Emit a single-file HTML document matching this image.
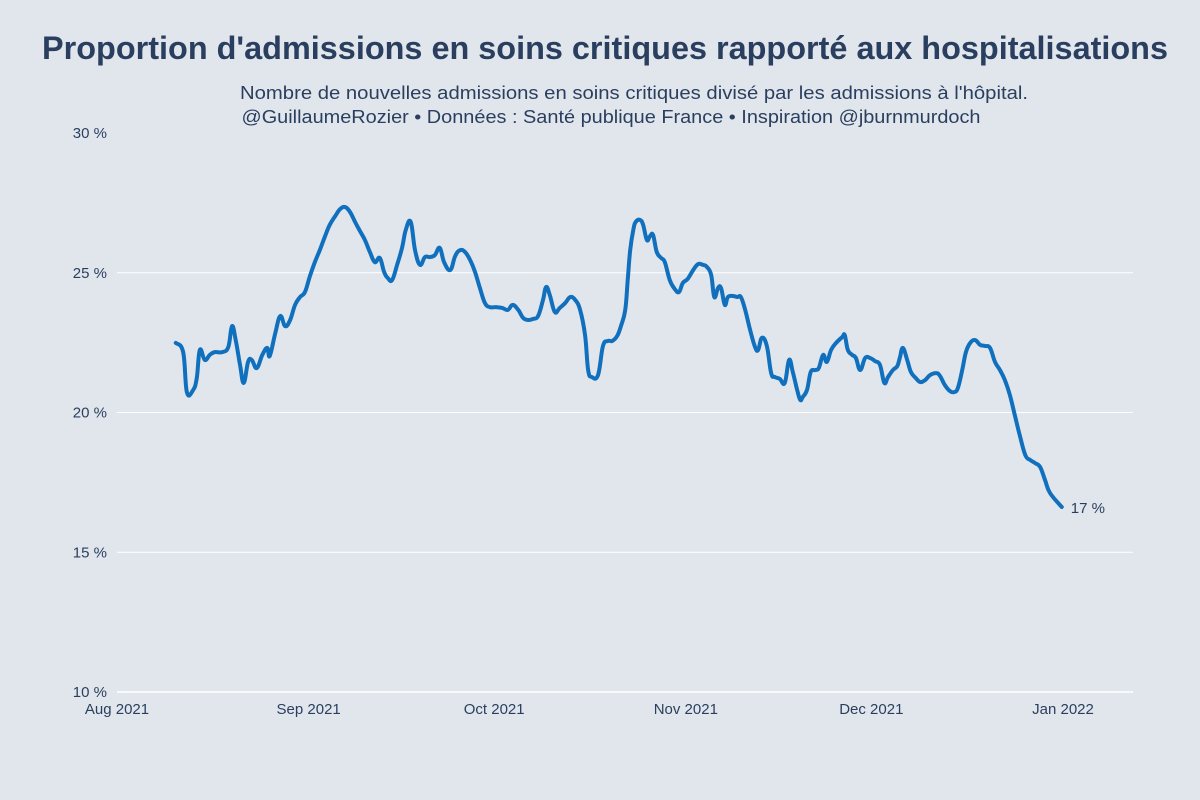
<!DOCTYPE html>
<html><head><meta charset="utf-8"><style>
html,body{margin:0;padding:0;background:#e1e6ec;}
svg{display:block;font-family:"Liberation Sans",sans-serif;}
</style></head><body>
<svg id="chart" width="1200" height="800">
<rect width="1200" height="800" fill="#e1e6ec"/>
<text x="605" y="59" text-anchor="middle" font-size="32" font-weight="bold" fill="#2a3f5f" textLength="1126" lengthAdjust="spacingAndGlyphs">Proportion d'admissions en soins critiques rapporté aux hospitalisations</text>
<text x="634" y="99" text-anchor="middle" font-size="18" fill="#2a3f5f" textLength="788" lengthAdjust="spacingAndGlyphs">Nombre de nouvelles admissions en soins critiques divisé par les admissions à l'hôpital.</text>
<text x="611" y="123" text-anchor="middle" font-size="18" fill="#2a3f5f" textLength="739" lengthAdjust="spacingAndGlyphs">@GuillaumeRozier • Données : Santé publique France • Inspiration @jburnmurdoch</text>
<g id="grid"></g><g id="yticks"></g><g id="xticks"></g><g id="series"></g>
</svg>
<script>
const yTicks=[10,15,20,25,30];
const yTickLabels=["10 %","15 %","20 %","25 %","30 %"];
const xTickDays=[0,31,61,92,122,153];
const xTickLabels=["Aug 2021","Sep 2021","Oct 2021","Nov 2021","Dec 2021","Jan 2022"];
const days=[9.5,10.7,11.3,12.3,12.9,13.4,14.2,15.0,15.8,17.0,18.0,18.6,19.2,19.9,20.5,21.2,21.8,22.6,23.5,24.3,24.7,25.6,26.4,27.2,28.0,28.8,29.6,30.4,31.2,32.0,32.8,33.6,34.4,35.3,36.1,36.9,37.7,38.5,39.3,40.1,40.9,41.7,42.5,43.2,43.8,44.5,45.3,46.1,46.7,47.5,48.2,49.0,49.8,50.6,51.4,52.2,52.9,53.9,54.7,55.5,56.3,57.1,57.9,58.7,59.5,60.3,61.3,62.3,63.2,64.0,64.9,65.7,66.5,67.3,68.1,68.9,69.4,70.0,70.8,71.6,72.5,73.3,74.1,74.9,75.7,76.2,76.8,77.8,78.6,79.4,80.1,80.9,81.5,82.2,82.6,83.0,83.5,83.9,84.6,85.1,85.7,86.2,86.7,87.3,88.0,88.6,89.4,90.2,90.9,91.5,92.3,93.2,94.0,94.8,95.4,96.1,96.6,97.2,97.7,98.3,98.8,99.6,100.3,100.9,101.6,102.4,103.2,103.7,104.3,105.1,105.8,106.4,107.2,108.0,108.7,109.3,110.0,110.5,110.9,111.6,112.2,112.9,113.5,114.2,114.8,115.5,116.3,117.3,117.7,118.2,118.9,119.5,120.2,121.0,121.8,122.6,123.4,124.1,124.7,125.5,126.2,126.6,127.1,127.8,128.4,129.2,129.9,130.7,131.5,132.5,133.1,133.9,134.7,135.4,136.0,136.7,137.3,138.0,138.8,139.6,140.4,141.2,142.0,142.8,143.6,144.4,145.2,146.0,146.9,147.7,148.5,149.3,150.1,150.9,152.8];
const values=[22.49,22.16,20.73,20.80,21.23,22.24,21.88,22.06,22.16,22.16,22.34,23.09,22.59,21.70,21.06,21.81,21.88,21.59,22.06,22.31,22.02,22.84,23.45,23.09,23.31,23.85,24.13,24.31,24.88,25.38,25.81,26.28,26.71,27.03,27.28,27.35,27.17,26.82,26.49,26.17,25.74,25.38,25.53,25.03,24.81,24.74,25.28,25.89,26.53,26.82,25.81,25.28,25.56,25.56,25.63,25.89,25.38,25.10,25.60,25.81,25.74,25.46,25.03,24.45,23.92,23.77,23.77,23.74,23.67,23.85,23.67,23.38,23.31,23.35,23.45,24.03,24.49,24.20,23.60,23.74,23.92,24.13,24.03,23.67,22.77,21.52,21.27,21.34,22.38,22.56,22.56,22.74,23.09,23.67,24.74,25.81,26.53,26.82,26.89,26.71,26.17,26.31,26.35,25.74,25.53,25.38,24.74,24.42,24.31,24.63,24.78,25.10,25.31,25.28,25.21,24.92,24.13,24.45,24.45,23.85,24.13,24.17,24.13,24.13,23.67,22.95,22.34,22.24,22.67,22.38,21.41,21.27,21.20,21.06,21.88,21.45,20.81,20.45,20.55,20.81,21.45,21.52,21.59,22.06,21.81,22.24,22.49,22.70,22.77,22.24,22.06,21.95,21.52,21.95,21.95,21.84,21.70,21.06,21.27,21.52,21.66,21.95,22.31,21.88,21.45,21.23,21.09,21.16,21.34,21.41,21.31,20.98,20.77,20.73,20.88,21.52,22.16,22.49,22.59,22.42,22.38,22.31,21.81,21.52,21.16,20.63,19.91,19.19,18.48,18.30,18.19,18.05,17.58,17.12,16.62];
const lastLabel="17 %";

const X0=117,X1=1133,Y0=692,Y1=133;
const xS=d=>X0+(d/153)*(1063-117);
const yS=v=>Y0-(v-10)/20*(Y0-Y1);
const NS="http://www.w3.org/2000/svg";
function mk(tag,attrs,parent,txt){const e=document.createElementNS(NS,tag);for(const k in attrs)e.setAttribute(k,attrs[k]);if(txt!==undefined)e.textContent=txt;parent.appendChild(e);return e;}
const grid=document.getElementById('grid'),yt=document.getElementById('yticks'),xt=document.getElementById('xticks'),ser=document.getElementById('series');
yTicks.forEach((t,i)=>{
  const y=yS(t);
  if(i>0&&i<yTicks.length-1){const l=mk('line',{x1:X0,x2:X1,y1:y,y2:y,stroke:'#ffffff','stroke-width':1},grid);
  
  }
  const tx=mk('text',{x:107,y:y+5,'text-anchor':'end','font-size':15,fill:'#2a3f5f'},yt,yTickLabels[i]);
  
  
});
const base=mk('line',{x1:X0,x2:X1,y1:Y0,y2:Y0,stroke:'#ffffff','stroke-width':1.5},grid);


xTickDays.forEach((d,i)=>{
  const tx=mk('text',{x:xS(d),y:714,'text-anchor':'middle','font-size':15,fill:'#2a3f5f'},xt,xTickLabels[i]);
  
  
});
const pts=days.map((d,i)=>[xS(d),yS(values[i])]);
let p=`M${pts[0][0]},${pts[0][1]}`;
for(let i=0;i<pts.length-1;i++){
  const a=pts[Math.max(0,i-1)],b=pts[i],c=pts[i+1],e=pts[Math.min(pts.length-1,i+2)];
  const t=0.2;
  p+=` C${b[0]+(c[0]-a[0])*t},${b[1]+(c[1]-a[1])*t} ${c[0]-(e[0]-b[0])*t},${c[1]-(e[1]-b[1])*t} ${c[0]},${c[1]}`;
}
const line=mk('path',{d:p,fill:'none',stroke:'#1170be','stroke-width':4,'stroke-linejoin':'round','stroke-linecap':'round'},ser);


const last=pts[pts.length-1];
const lab=mk('text',{x:last[0]+9,y:last[1]+6,'font-size':15,fill:'#2a3f5f'},ser,lastLabel);


</script>
</body></html>
